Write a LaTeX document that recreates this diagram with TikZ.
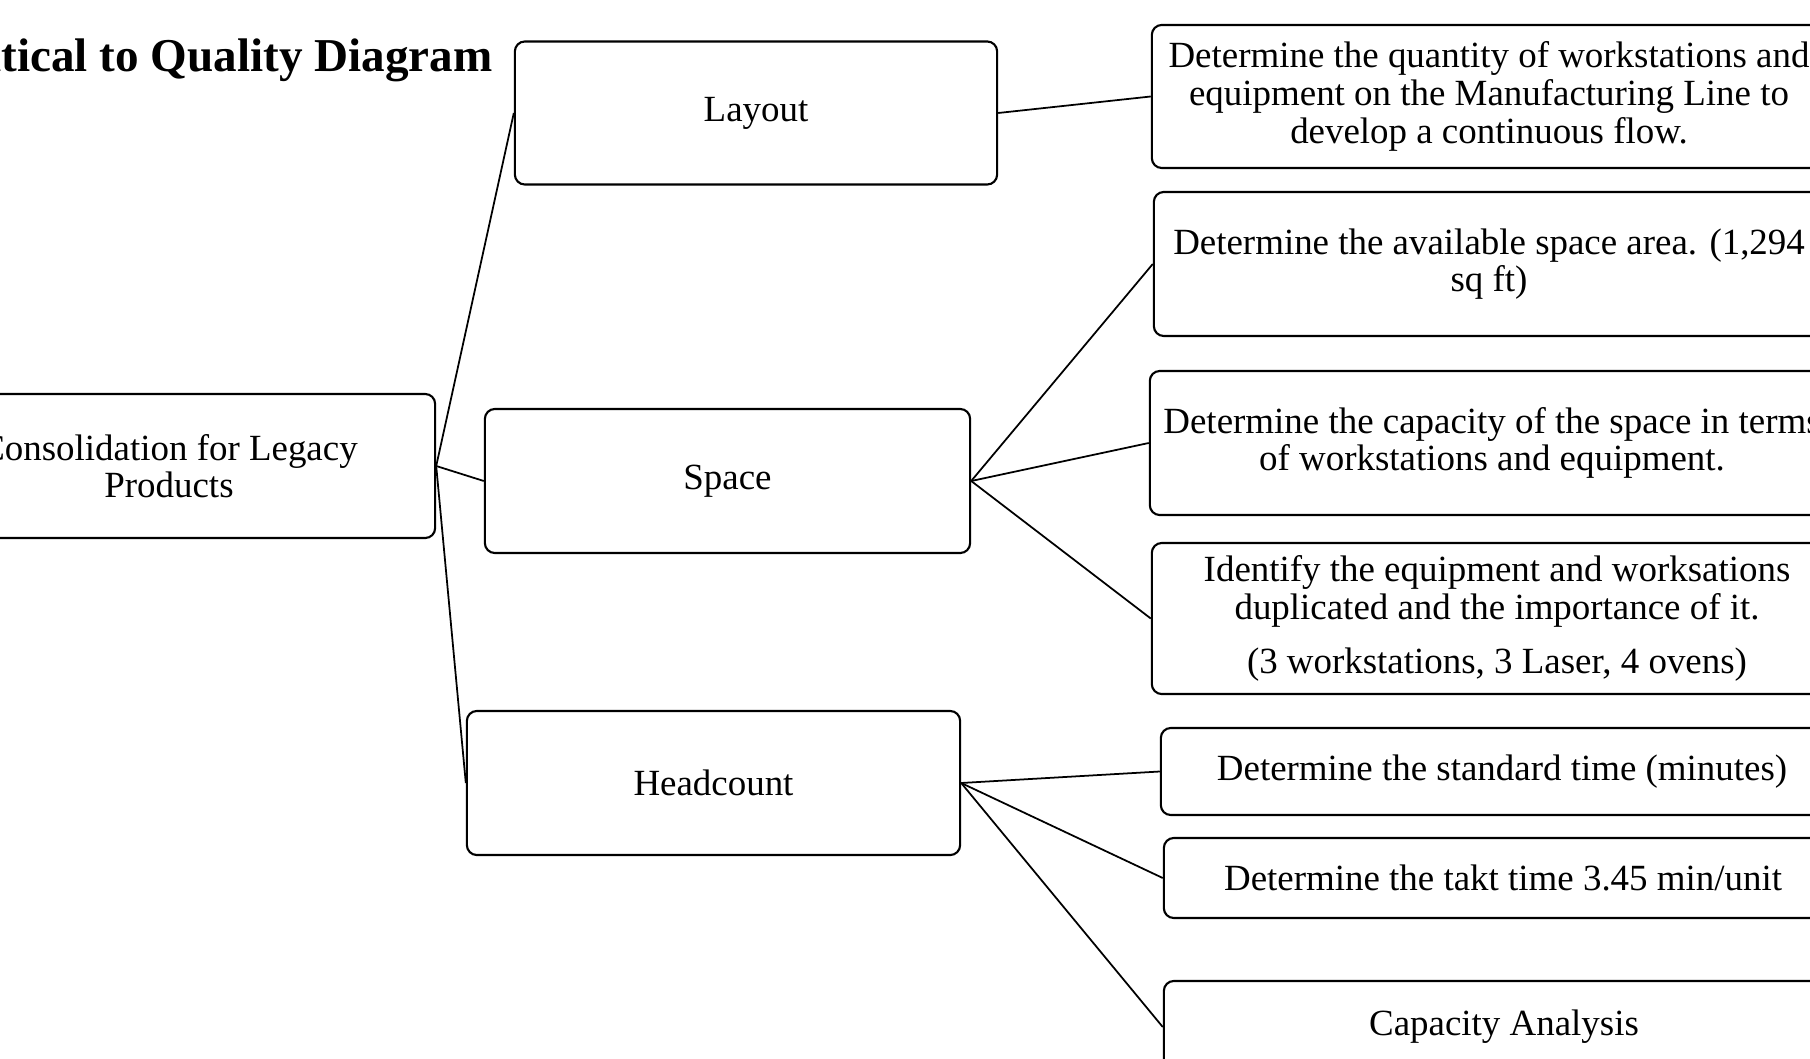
\documentclass[tikz,border=0pt]{standalone}
\usepackage{fontspec}
\setmainfont{Liberation Serif}
\usepackage{tikz}
\usetikzlibrary{positioning,calc}

\newcommand{\boxfont}{\fontsize{10.5}{10.7}\selectfont}

\begin{document}
\begin{tikzpicture}[x=0.01cm,y=-0.01cm,
        ctqbox/.style={draw,rounded corners=0.1cm,line width=0.6pt,align=center,inner sep=0pt,font=\boxfont},
        link/.style={line width=0.5pt}]
        \useasboundingbox (0,0) rectangle (1810,1058);
        \clip (0,0) rectangle (1810,1058);

        % Title
        \node[anchor=base east,inner sep=0pt,font=\fontsize{13.4}{16}\selectfont\bfseries] (title) at (493,72) {Critical to Quality Diagram};

        % Main box
        \node[ctqbox,minimum width=5.32cm,minimum height=1.44cm] (root) at (169,466) {Consolidation for Legacy\\Products};

        % Categories
        \node[ctqbox,minimum width=4.82cm,minimum height=1.43cm] (layout) at (756,113) {Layout};
        \node[ctqbox,minimum width=4.85cm,minimum height=1.44cm] (space) at (727.5,481) {Space};
        \node[ctqbox,minimum width=4.93cm,minimum height=1.44cm] (headcount) at (713.5,783) {Headcount};

        % Tasks
        \node[ctqbox,minimum width=6.74cm,minimum height=1.43cm] (layoutTask1) at (1489,96.5) {Determine the quantity of workstations and\\equipment on the Manufacturing Line to\\develop a continuous flow.};
        \node[ctqbox,minimum width=6.70cm,minimum height=1.44cm] (spaceTask1) at (1489,264) {Determine the available space area. (1,294\\sq ft)};
        \node[ctqbox,minimum width=6.84cm,minimum height=1.44cm] (spaceTask2) at (1492,443) {Determine the capacity of the space in terms\\of workstations and equipment.};
        \node[ctqbox,minimum width=6.90cm,minimum height=1.51cm] (spaceTask3) at (1497,618.5) {Identify the equipment and worksations\\duplicated and the importance of it.\\[0.17cm](3 workstations, 3 Laser, 4 ovens)};
        \node[ctqbox,minimum width=6.82cm,minimum height=0.87cm] (headTask1) at (1502,771.5) {Determine the standard time (minutes)};
        \node[ctqbox,minimum width=6.78cm,minimum height=0.80cm] (headTask2) at (1503,878) {Determine the takt time 3.45 min/unit};
        \node[ctqbox,minimum width=6.80cm,minimum height=0.92cm] (headTask3) at (1504,1027) {Capacity Analysis};

        % Links from the main box
        \draw[link] (root.east) -- (layout.west);
        \draw[link] (root.east) -- (space.west);
        \draw[link] (root.east) -- (headcount.west);

        % Links to the tasks
        \draw[link] (layout.east) -- (layoutTask1.west);
        \draw[link] (space.east) -- (spaceTask1.west);
        \draw[link] (space.east) -- (spaceTask2.west);
        \draw[link] (space.east) -- (spaceTask3.west);
        \draw[link] (headcount.east) -- (headTask1.west);
        \draw[link] (headcount.east) -- (headTask2.west);
        \draw[link] (headcount.east) -- (headTask3.west);
    \end{tikzpicture}
\end{document}
